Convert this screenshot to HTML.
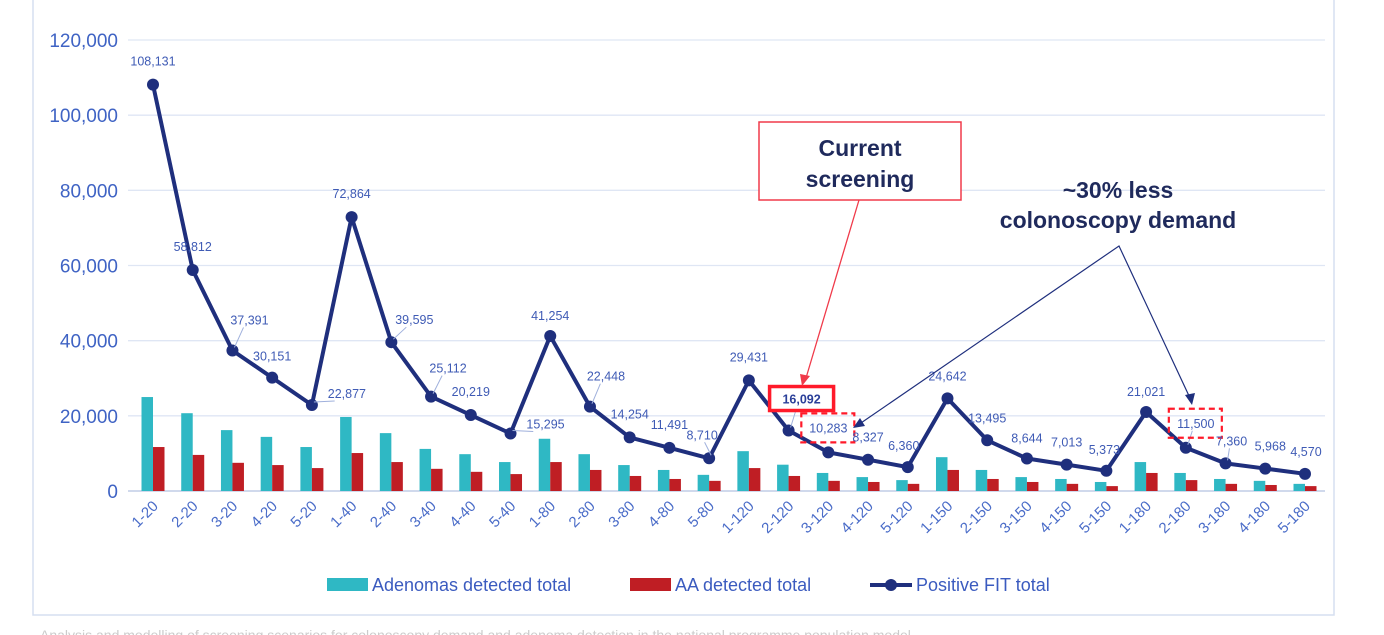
<!DOCTYPE html>
<html><head><meta charset="utf-8"><style>
html,body{margin:0;padding:0;background:#fff;width:1384px;height:635px;overflow:hidden;font-family:"Liberation Sans",sans-serif}
</style></head><body>
<svg id="chart" width="1384" height="635" xmlns="http://www.w3.org/2000/svg" font-family="Liberation Sans, sans-serif">
<rect x="33" y="-2" width="1301" height="617" fill="none" stroke="#d6dff0" stroke-width="1.5"/>
<g id="grid"></g><g id="bars"></g><g id="line"></g><g id="labels"></g>
<g font-size="18" fill="#3b5bbf">
<rect x="327" y="578" width="41" height="13" fill="#2fb8c4"/>
<text x="372" y="591">Adenomas detected total</text>
<rect x="630" y="578" width="41" height="13" fill="#bf1e24"/>
<text x="675" y="591">AA detected total</text>
<line x1="870" y1="585" x2="912" y2="585" stroke="#1f2f7d" stroke-width="4"/>
<circle cx="891" cy="585" r="6" fill="#1f2f7d"/>
<text x="916" y="591">Positive FIT total</text>
</g>
<g>
<rect x="759" y="122" width="202" height="78" fill="#fff" stroke="#f03a4a" stroke-width="1.5"/>
<text x="860" y="156" text-anchor="middle" font-size="23" font-weight="bold" fill="#1f2a5c">Current</text>
<text x="860" y="187" text-anchor="middle" font-size="23" font-weight="bold" fill="#1f2a5c">screening</text>
<line x1="859" y1="200" x2="806" y2="378" stroke="#f03a4a" stroke-width="1.3"/>
<polygon points="802,386 800,374 810,376" fill="#f03a4a"/>
</g>
<g>
<text x="1118" y="198" text-anchor="middle" font-size="23" font-weight="bold" fill="#1f2a5c">~30% less</text>
<text x="1118" y="228" text-anchor="middle" font-size="23" font-weight="bold" fill="#1f2a5c">colonoscopy demand</text>
<polyline points="858,425 1119,246 1190,398" fill="none" stroke="#1f2f7d" stroke-width="1.2"/>
<polygon points="853,428 860,418 865,426" fill="#1f2f7d"/>
<polygon points="1192,405 1185,395 1195,393" fill="#1f2f7d"/>
</g>
<text x="40" y="640" font-size="14" fill="#aaa" opacity="0.6">Analysis and modelling of screening scenarios for colonoscopy demand and adenoma detection in the national programme population model</text>
</svg>
<script>
const categories=["1-20","2-20","3-20","4-20","5-20","1-40","2-40","3-40","4-40","5-40","1-80","2-80","3-80","4-80","5-80","1-120","2-120","3-120","4-120","5-120","1-150","2-150","3-150","4-150","5-150","1-180","2-180","3-180","4-180","5-180"];
const adenomas=[25000,20700,16200,14400,11700,19700,15400,11200,9800,7700,13900,9800,6900,5600,4300,10600,7000,4800,3700,2900,9000,5600,3700,3200,2400,7700,4800,3200,2700,1900];
const aa=[11700,9600,7500,6900,6100,10100,7700,5900,5100,4500,7700,5600,4000,3200,2700,6100,4000,2700,2400,1900,5600,3200,2400,1900,1300,4800,2900,1900,1600,1300];
const fit=[108131,58812,37391,30151,22877,72864,39595,25112,20219,15295,41254,22448,14254,11491,8710,29431,16092,10283,8327,6360,24642,13495,8644,7013,5373,21021,11500,7360,5968,4570];
const yTicks=[0,20000,40000,60000,80000,100000,120000];
const NS="http://www.w3.org/2000/svg";
const x=i=>153+i*(1305-153)/(categories.length-1);
const y=v=>491-v*(451/120000);
function mk(tag,attrs,parent,txt){const e=document.createElementNS(NS,tag);for(const k in attrs)e.setAttribute(k,attrs[k]);if(txt!==undefined)e.textContent=txt;parent.appendChild(e);return e;}
const fmt=v=>v.toLocaleString('en-US');
const grid=document.getElementById('grid'),bars=document.getElementById('bars'),line=document.getElementById('line'),labels=document.getElementById('labels');
yTicks.forEach(t=>{
 const l=mk('line',{x1:128,x2:1325,y1:y(t),y2:y(t),stroke:t===0?'#d0d9ec':'#dfe6f4','stroke-width':t===0?2:1.3},grid);
 
 
 const tx=mk('text',{x:118,y:y(t)+7,'text-anchor':'end','font-size':19,fill:'#3f63c4'},grid,fmt(t));
 
 
});
categories.forEach((c,i)=>{
 const bw=11.5;
 const a=mk('rect',{x:x(i)-bw,y:y(adenomas[i]),width:bw,height:y(0)-y(adenomas[i]),fill:'#2fb8c4'},bars);
 
 
 const r=mk('rect',{x:x(i),y:y(aa[i]),width:bw,height:y(0)-y(aa[i]),fill:'#bf1e24'},bars);
 
 
 const t=mk('text',{'text-anchor':'end','font-size':15,fill:'#4a6cc8',transform:`translate(${x(i)+6},${507}) rotate(-45)`},labels,c);
 
 
});
const pts=fit.map((v,i)=>x(i)+','+y(v)).join(' ');
const pl=mk('polyline',{points:pts,fill:'none',stroke:'#1f2f7d','stroke-width':4,'stroke-linejoin':'round'},line);


// label offsets (dx,dy) relative to point — styling only
const off=[[0,-23],[0,-23],[17,-30],[0,-21],[35,-11],[0,-23],[23,-22],[17,-28],[0,-23],[35,-9],[0,-20],[16,-30],[0,-23],[0,-23],[-7,-23],[0,-23],[13,-31],[0,-24],[0,-22],[-4,-21],[0,-22],[0,-22],[0,-20],[0,-22],[-2,-21],[0,-20],[10,-24],[6,-22],[5,-22],[1,-22]];
fit.forEach((v,i)=>{
 const c=mk('circle',{cx:x(i),cy:y(v),r:6,fill:'#1f2f7d'},line);
 
 
 const lx=x(i)+off[i][0],ly=y(v)+off[i][1];
 if(Math.abs(off[i][0])>5){const ld=mk('line',{x1:x(i)+2,y1:y(v)-3,x2:lx-off[i][0]*0.35,y2:ly+7,stroke:'#9fb0dc','stroke-width':1},labels);}
 const bold=i===16;
 if(bold){const b=mk('rect',{x:lx-32,y:ly-13,width:64,height:24,fill:'#fff',stroke:'#ff1a2a','stroke-width':3.5},labels);}
 if(i===17||i===26){const b=mk('rect',{x:lx-27,y:ly-15,width:53,height:29,fill:'none',stroke:'#ff1a2a','stroke-width':2.2,'stroke-dasharray':'6,4'},labels);}
 const t=mk('text',{x:lx,y:ly+4,'text-anchor':'middle','font-size':12.5,fill:bold?'#2a3f99':'#3f5bb5','font-weight':bold?'bold':'normal'},labels,fmt(v));
 
 
});
</script>
</body></html>
